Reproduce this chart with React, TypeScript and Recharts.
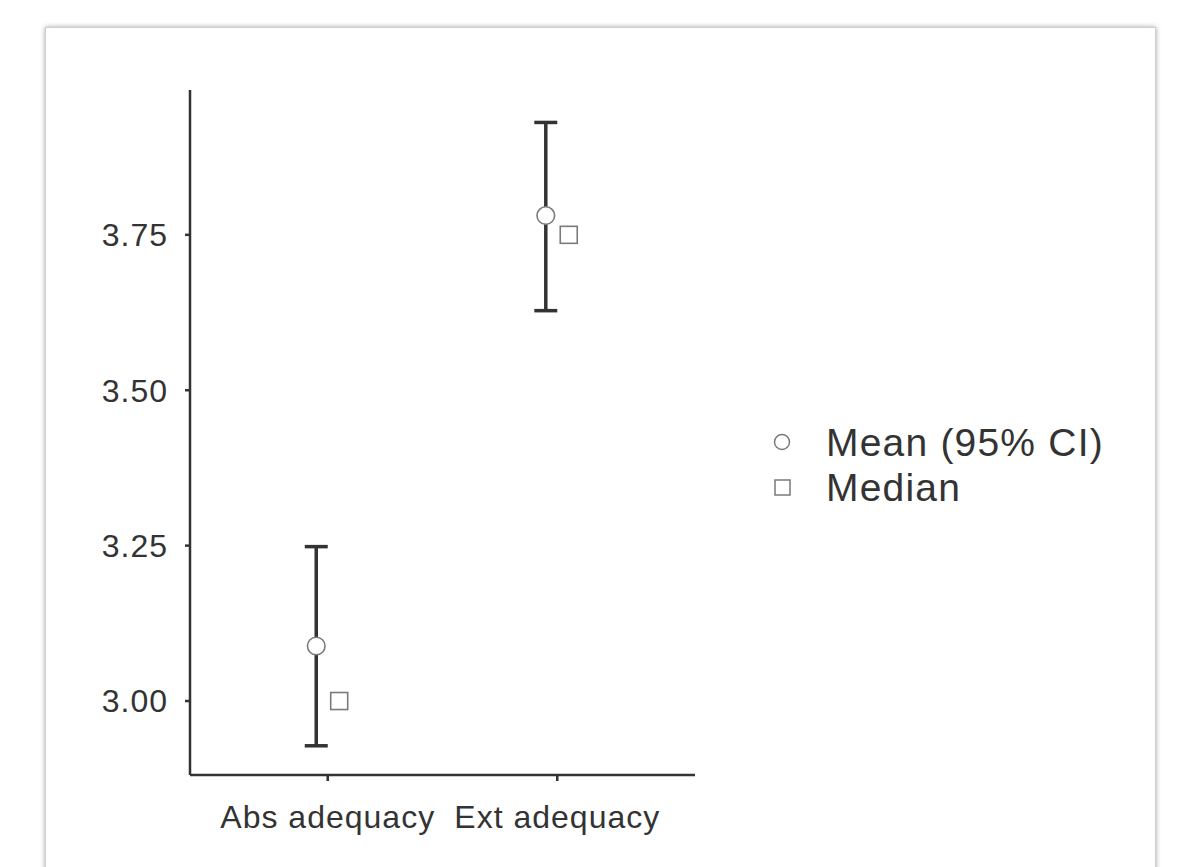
import React from 'react';
import { ComposedChart, Scatter, XAxis, YAxis, ErrorBar, Legend } from 'recharts';

const categories = ['Abs adequacy', 'Ext adequacy'];
const meanValues = [3.0885, 3.781];
const ciLower = [2.928, 3.628];
const ciUpper = [3.2484, 3.9308];
const medianValues = [3.0, 3.75];
const yTicks = [3.0, 3.25, 3.5, 3.75];
const seriesNames = ['Mean (95% CI)', 'Median'];
const dodge = 0.05;

const meanData = categories.map((c, i) => ({
  x: i + 1 - dodge,
  y: meanValues[i],
  err: [meanValues[i] - ciLower[i], ciUpper[i] - meanValues[i]],
  name: c,
}));
const medianData = categories.map((c, i) => ({
  x: i + 1 + dodge,
  y: medianValues[i],
  name: c,
}));

const FONT = '"Liberation Sans", Arial, sans-serif';
const TEXT = '#333333';
const AXIS = '#333333';
const SYM = '#7a7a7a';

const CircleShape = (props: any) => {
  const { cx, cy } = props;
  if (cx == null || cy == null) return null;
  return <circle cx={cx} cy={cy} r={8.8} fill="#ffffff" stroke={SYM} strokeWidth={1.6} />;
};
const SquareShape = (props: any) => {
  const { cx, cy } = props;
  if (cx == null || cy == null) return null;
  return <rect x={cx - 8.5} y={cy - 8.5} width={17} height={17} fill="#ffffff" stroke={SYM} strokeWidth={1.6} />;
};

const renderLegend = () => (
  <svg width={380} height={100} style={{ display: 'block', overflow: 'visible' }}>
    <circle cx={17} cy={22} r={7.5} fill="#ffffff" stroke={SYM} strokeWidth={1.5} />
    <text x={61} y={36} fontSize={39} fontFamily={FONT} fill={TEXT} letterSpacing={1.2}>
      {seriesNames[0]}
    </text>
    <rect x={10} y={60} width={15} height={15} fill="#ffffff" stroke={SYM} strokeWidth={1.5} />
    <text x={61} y={81} fontSize={39} fontFamily={FONT} fill={TEXT} letterSpacing={1.2}>
      {seriesNames[1]}
    </text>
  </svg>
);

export default function App() {
  return (
    <div style={{ position: 'absolute', left: 0, top: 0, width: 1181, height: 867, overflow: 'hidden', background: '#ffffff' }}>
      <div
        style={{
          position: 'absolute',
          left: 45,
          top: 27,
          width: 1109,
          height: 900,
          background: '#ffffff',
          border: '1px solid #cfcfcf',
          boxShadow: '0 0 5px rgba(0,0,0,0.35)',
        }}
      />
      <div style={{ position: 'absolute', left: 0, top: 0 }}>
        <ComposedChart
          width={1181}
          height={867}
          margin={{ top: 90, right: 486, bottom: 32, left: 90 }}
        >
          <XAxis
            type="number"
            dataKey="x"
            domain={[0.4, 2.6]}
            ticks={[1, 2]}
            allowDataOverflow
            tickFormatter={(v: number) => categories[Math.round(v) - 1] ?? ''}
            height={60}
            tickSize={6}
            tickMargin={24}
            axisLine={{ stroke: AXIS, strokeWidth: 2.5 }}
            tickLine={{ stroke: AXIS, strokeWidth: 2.5 }}
            tick={{ fill: TEXT, fontSize: 32, fontFamily: FONT, letterSpacing: 1 }}
          />
          <YAxis
            type="number"
            dataKey="y"
            domain={[2.881, 3.983]}
            ticks={yTicks}
            allowDataOverflow
            tickFormatter={(v: number) => v.toFixed(2)}
            width={100}
            tickSize={5}
            tickMargin={17}
            axisLine={{ stroke: AXIS, strokeWidth: 2.5 }}
            tickLine={{ stroke: AXIS, strokeWidth: 2.5 }}
            tick={{ fill: TEXT, fontSize: 32, fontFamily: FONT, letterSpacing: 1 }}
          />
          <Legend
            layout="vertical"
            align="center"
            verticalAlign="middle"
            content={renderLegend}
            wrapperStyle={{ position: 'absolute', left: 765, top: 420, width: 380, height: 100 }}
          />
          <Scatter
            name={seriesNames[0]}
            data={meanData}
            shape={CircleShape}
            isAnimationActive={false}
          >
            <ErrorBar dataKey="err" direction="y" width={11.5} stroke={AXIS} strokeWidth={3.5} />
          </Scatter>
          <Scatter
            name={seriesNames[1]}
            data={medianData}
            shape={SquareShape}
            isAnimationActive={false}
          />
        </ComposedChart>
      </div>
    </div>
  );
}
